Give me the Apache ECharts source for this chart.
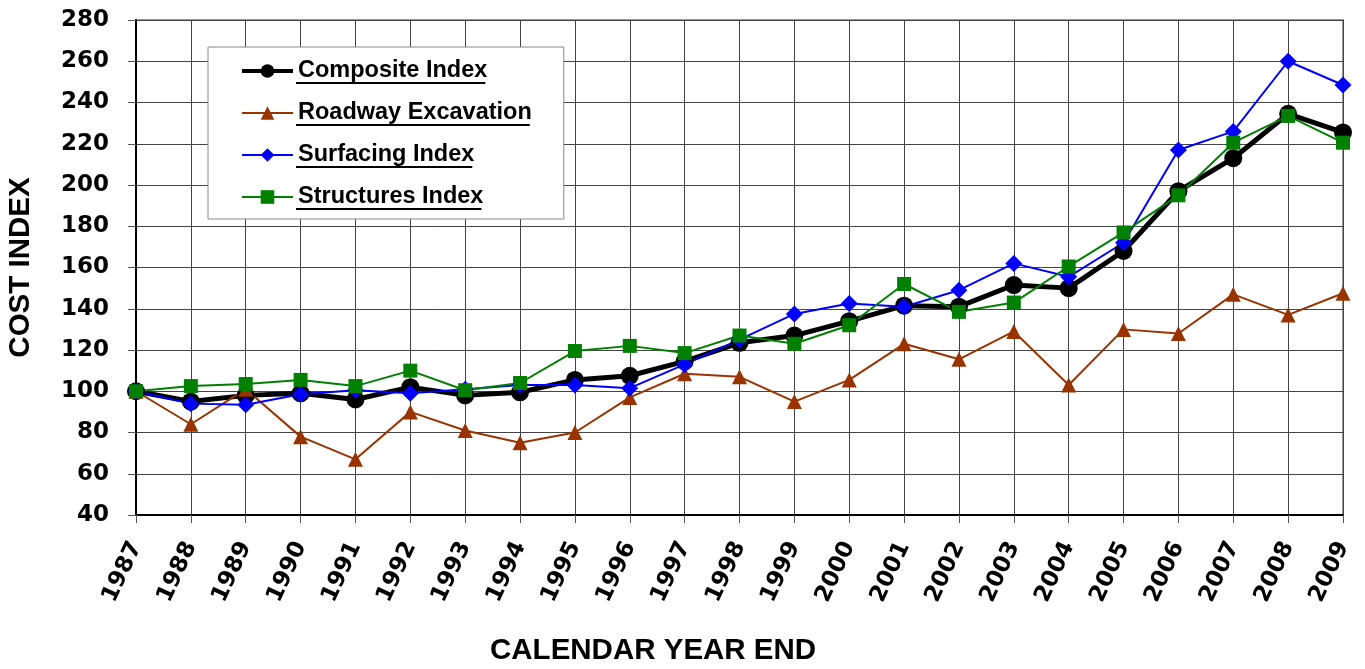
<!DOCTYPE html>
<html>
<head>
<meta charset="utf-8">
<script src="https://cdn.jsdelivr.net/npm/echarts@6/dist/echarts.min.js"></script>
<style>
  html, body { margin: 0; padding: 0; background: #fff; }
  #chart { width: 1365px; height: 669px; }
</style>
</head>
<body>
<div id="chart"></div>
<script>
// year-end values
var years = ['1987', '1988', '1989', '1990', '1991', '1992', '1993', '1994', '1995', '1996', '1997', '1998',
    '1999', '2000', '2001', '2002', '2003', '2004', '2005', '2006', '2007', '2008', '2009'];
var composite = [100, 95, 98, 99, 96, 102, 98, 99.5, 105.5, 107.5, 114.5, 123.5, 127, 134, 141.5, 141, 151.5, 150, 168, 197, 213, 234.5, 225.5];
var roadway = [100, 84, 101, 78, 67, 90, 81, 75, 80, 97, 108.5, 107, 95, 105.5, 123, 115.5, 129, 103, 130, 128, 147, 137, 147.5];
var surfacing = [100, 94, 93.5, 98.5, 100.5, 99, 101, 103, 103, 101.5, 113, 125, 137.5, 142.5, 141, 149, 162, 155.5, 172, 217, 226, 260, 248.5];
var structures = [100, 102.5, 103.5, 105.5, 102.5, 110, 100.5, 104, 119.5, 122, 118.5, 127, 123, 132, 152, 138.5, 143, 160.5, 177, 195, 220.5, 233.5, 220.5];
var seriesNames = ['Composite Index', 'Roadway Excavation', 'Surfacing Index', 'Structures Index'];

var chart = echarts.init(document.getElementById('chart'));

var legendFont = "bold 23.5px 'Liberation Sans'";
var legendLeft = 208, legendTop = 47;
var legendPad = [12, 32, 10, 32];
var rowH = 24, rowGap = 18;

// underline under each legend label
function legendUnderlines() {
    var ctx = document.createElement('canvas').getContext('2d');
    ctx.font = legendFont;
    var x0 = legendLeft + legendPad[3] + 51 + 5;
    return seriesNames.map(function (name, i) {
        var cy = legendTop + legendPad[0] + i * (rowH + rowGap) + rowH / 2;
        var w = ctx.measureText(name).width;
        return {
            type: 'line', z: 100,
            shape: {x1: x0, y1: cy + 12, x2: x0 + w, y2: cy + 12},
            style: {stroke: '#000', lineWidth: 2}
        };
    });
}

var option = {
    animation: false,
    backgroundColor: '#fff',
    title: {
        text: 'CALENDAR YEAR END',
        left: 490,
        top: 636,
        padding: 0,
        textStyle: {fontFamily: 'Liberation Sans', fontWeight: 'bold', fontSize: 29.5, color: '#000'}
    },
    grid: {
        left: 136, right: 22, top: 20, bottom: 154,
        outerBoundsMode: 'none',
        show: true, borderColor: '#999', borderWidth: 2
    },
    legend: {
        orient: 'vertical',
        left: legendLeft, top: legendTop,
        padding: legendPad,
        itemGap: rowGap,
        itemWidth: 51, itemHeight: 17,
        backgroundColor: '#fff',
        borderColor: '#888', borderWidth: 1,
        data: [
            {name: seriesNames[0], lineStyle: {width: 4}},
            {name: seriesNames[1], lineStyle: {width: 2}},
            {name: seriesNames[2], lineStyle: {width: 2}},
            {name: seriesNames[3], lineStyle: {width: 2}}
        ],
        textStyle: {fontFamily: 'Liberation Sans', fontWeight: 'bold', fontSize: 23.5, lineHeight: rowH, color: '#000'}
    },
    xAxis: {
        type: 'category',
        boundaryGap: false,
        data: years,
        axisLine: {lineStyle: {color: '#000', width: 2}},
        axisTick: {show: true, length: 8, lineStyle: {color: '#555'}},
        axisLabel: {
            rotate: 65, margin: 28, interval: 0,
            fontFamily: 'DejaVu Sans', fontWeight: 'bold', fontSize: 23, color: '#000'
        },
        splitLine: {show: true, lineStyle: {color: '#444', width: 1}}
    },
    yAxis: {
        type: 'value',
        min: 40, max: 280, interval: 20,
        name: 'COST INDEX',
        nameLocation: 'middle',
        nameGap: 100,
        nameTextStyle: {fontFamily: 'Liberation Sans', fontWeight: 'bold', fontSize: 29.5, color: '#000'},
        axisLine: {show: true, lineStyle: {color: '#000', width: 2}},
        axisTick: {show: true, length: 8, lineStyle: {color: '#555'}},
        axisLabel: {margin: 27, fontFamily: 'DejaVu Sans', fontWeight: 'bold', fontSize: 23, color: '#000'},
        splitLine: {show: true, lineStyle: {color: '#444', width: 1}}
    },
    series: [
        {
            name: seriesNames[0], type: 'line', data: composite,
            symbol: 'circle', symbolSize: 18,
            itemStyle: {color: '#000'},
            lineStyle: {color: '#000', width: 5}
        },
        {
            name: seriesNames[1], type: 'line', data: roadway,
            symbol: 'triangle', symbolSize: 15,
            itemStyle: {color: '#993300'},
            lineStyle: {color: '#993300', width: 2}
        },
        {
            name: seriesNames[2], type: 'line', data: surfacing,
            symbol: 'diamond', symbolSize: 17,
            itemStyle: {color: '#0000ff'},
            lineStyle: {color: '#0000ff', width: 2}
        },
        {
            name: seriesNames[3], type: 'line', data: structures,
            symbol: 'rect', symbolSize: 14,
            itemStyle: {color: '#008000'},
            lineStyle: {color: '#008000', width: 2}
        }
    ],
    graphic: legendUnderlines()
};

chart.setOption(option);
</script>
</body>
</html>
